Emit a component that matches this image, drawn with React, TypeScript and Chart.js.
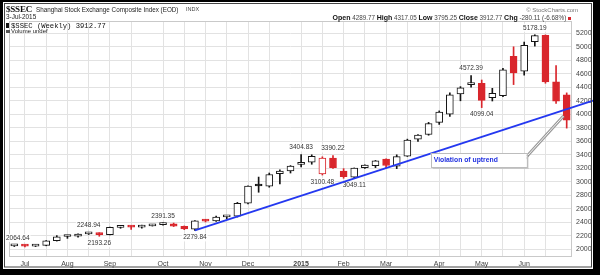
import React, { useEffect, useRef } from 'react';
import { Chart, registerables } from 'chart.js';

Chart.register(...registerables);

// ---- data ----
const weeks = [
  '2014-06-30', '2014-07-07', '2014-07-14', '2014-07-21', '2014-07-28',
  '2014-08-04', '2014-08-11', '2014-08-18', '2014-08-25',
  '2014-09-01', '2014-09-08', '2014-09-15', '2014-09-22', '2014-09-29',
  '2014-10-06', '2014-10-13', '2014-10-20', '2014-10-27',
  '2014-11-03', '2014-11-10', '2014-11-17', '2014-11-24',
  '2014-12-01', '2014-12-08', '2014-12-15', '2014-12-22', '2014-12-29',
  '2015-01-05', '2015-01-12', '2015-01-19', '2015-01-26',
  '2015-02-02', '2015-02-09', '2015-02-16', '2015-02-23',
  '2015-03-02', '2015-03-09', '2015-03-16', '2015-03-23', '2015-03-30',
  '2015-04-06', '2015-04-13', '2015-04-20', '2015-04-27',
  '2015-05-04', '2015-05-11', '2015-05-18', '2015-05-25',
  '2015-06-01', '2015-06-08', '2015-06-15', '2015-06-22', '2015-06-29',
];

const opens = [
  2050, 2060, 2047, 2058, 2127, 2190, 2194, 2228, 2241, 2217, 2326, 2333, 2328, 2348,
  2366, 2377, 2339, 2300, 2428, 2419, 2480, 2490, 2683, 2940, 2935, 3120, 3160,
  3258, 3290, 3116, 3350, 3160, 3070, 3210, 3240, 3335, 3230, 3380, 3630, 3700,
  3880, 4000, 4300, 4440, 4460, 4245, 4276, 4860, 4640, 5076, 5170, 4480, 4289.77,
];
const highs = [
  2064.64, 2066, 2068, 2130, 2203, 2200, 2230, 2248.94, 2245, 2330, 2346, 2346, 2358, 2370,
  2391.35, 2389, 2346, 2426, 2443, 2491, 2496, 2695, 2940, 3070, 3130, 3177, 3240,
  3404.83, 3400, 3370, 3390.22, 3195, 3205, 3250, 3316, 3340, 3400, 3632, 3700, 3880,
  4050, 4317, 4410, 4572.39, 4508, 4385, 4680, 5000, 5070, 5178.19, 5176, 4720, 4317.05,
];
const lows = [
  2041, 2036, 2040, 2052, 2122, 2162, 2181, 2219, 2193.26, 2214, 2311, 2296, 2313, 2344,
  2359, 2337, 2291, 2279.84, 2405, 2414, 2452, 2478, 2673, 2845, 2920, 2968, 3130,
  3220, 3260, 3100.48, 3200, 3052, 3049.11, 3200, 3210, 3210, 3195, 3375, 3600, 3690,
  3850, 3970, 4200, 4400, 4099.04, 4197, 4260, 4440, 4580, 5010, 4460, 4160, 3795.25,
];
const closes = [
  2059.38, 2046.96, 2059.08, 2126.61, 2185.30, 2194.44, 2226.73, 2240.81, 2217.20,
  2326.43, 2331.95, 2329.45, 2347.72, 2363.87, 2374.54, 2341.18, 2302.28, 2420.18,
  2418.17, 2478.82, 2486.79, 2682.84, 2937.65, 2938.17, 3108.60, 3157.60, 3234.68,
  3285.41, 3376.50, 3351.76, 3210.36, 3075.91, 3203.83, 3246.91, 3310.30, 3241.19,
  3372.91, 3617.32, 3691.10, 3863.93, 4034.31, 4287.30, 4393.69, 4441.66, 4205.92,
  4308.69, 4657.60, 4611.74, 5023.10, 5166.35, 4478.36, 4192.87, 3912.77,
];
const prevCloseBefore = 2036.52;

const monthTickIdx = [1, 5, 9, 14, 18, 22, 27, 31, 35, 40, 44, 48];
const monthTickLabels = ['Jul', 'Aug', 'Sep', 'Oct', 'Nov', 'Dec', '2015', 'Feb', 'Mar', 'Apr', 'May', 'Jun'];
const midMonthIdx = [3, 7, 11, 16, 20, 24, 29, 33, 37, 42, 46, 50];
const yTicks = [2000, 2200, 2400, 2600, 2800, 3000, 3200, 3400, 3600, 3800, 4000, 4200, 4400, 4600, 4800, 5000, 5200];
const yMin = 1886;
const yMax = 5382;

// price annotations (index, which side)
const noteIdx = [0, 7, 8, 14, 17, 27, 29, 30, 32, 43, 44, 49];
const noteSide = ['above', 'above', 'below', 'above', 'below', 'above', 'below', 'above', 'below', 'above', 'below', 'above'];

// trend line anchors (two weekly lows)
const trendIdx = [17, 32];
const trendVal = [2279.84, 3049.11];

// callout anchors
const calloutText = 'Violation of uptrend';
const calloutAt = [39.2, 3427]; // index, value (top-left)
const arrowFrom = [48.0, 3335];
const arrowTo = [51.7, 3975];

const RED = '#d9262c';
const BLACK = '#151515';

const overlayPlugin = {
  id: 'overlay',
  beforeDraw(chart: any) {
    const ctx = chart.ctx;
    ctx.save();
    ctx.fillStyle = '#ffffff';
    ctx.fillRect(0, 0, chart.width, chart.height);
    ctx.restore();
  },
  beforeDatasetsDraw(chart: any) {
    const { ctx, chartArea: a } = chart;
    ctx.save();
    ctx.strokeStyle = '#c9c9c9';
    ctx.lineWidth = 1;
    ctx.strokeRect(Math.round(a.left) + 0.5, Math.round(a.top) + 0.5, Math.round(a.right - a.left) - 1, Math.round(a.bottom - a.top) - 1);
    ctx.restore();
  },
  afterDatasetsDraw(chart: any) {
    const { ctx } = chart;
    const xs = chart.scales.x;
    const ys = chart.scales.y;
    ctx.save();

    // price notes
    ctx.font = '6.5px "Liberation Sans", Arial, sans-serif';
    ctx.textAlign = 'center';
    ctx.textBaseline = 'middle';
    noteIdx.forEach((i, k) => {
      const above = noteSide[k] === 'above';
      const v = above ? highs[i] : lows[i];
      const t = v.toFixed(2);
      const w = ctx.measureText(t).width;
      const px = Math.max(xs.getPixelForValue(i), 6 + w / 2);
      const py = ys.getPixelForValue(v) + (above ? -7 : 7);
      ctx.fillStyle = 'rgba(255,255,255,0.9)';
      ctx.fillRect(px - w / 2 - 1, py - 4, w + 2, 8);
      ctx.fillStyle = '#333';
      ctx.fillText(t, px, py);
    });

    // trend line
    const x1 = xs.getPixelForValue(trendIdx[0]);
    const y1 = ys.getPixelForValue(trendVal[0]);
    const x2 = xs.getPixelForValue(trendIdx[1]);
    const y2 = ys.getPixelForValue(trendVal[1]);
    const slope = (y2 - y1) / (x2 - x1);
    const xe = chart.width - 7;
    ctx.strokeStyle = '#2438f0';
    ctx.lineWidth = 1.8;
    ctx.beginPath();
    ctx.moveTo(x1, y1);
    ctx.lineTo(xe, y1 + slope * (xe - x1));
    ctx.stroke();

    // arrow
    const ax1 = xs.getPixelForValue(arrowFrom[0]);
    const ay1 = ys.getPixelForValue(arrowFrom[1]);
    const ax2 = xs.getPixelForValue(arrowTo[0]);
    const ay2 = ys.getPixelForValue(arrowTo[1]);
    ctx.strokeStyle = '#9a9a9a';
    ctx.lineWidth = 3;
    ctx.beginPath();
    ctx.moveTo(ax1, ay1);
    ctx.lineTo(ax2, ay2);
    ctx.stroke();
    ctx.strokeStyle = '#f4f4f4';
    ctx.lineWidth = 1;
    ctx.beginPath();
    ctx.moveTo(ax1, ay1);
    ctx.lineTo(ax2, ay2);
    ctx.stroke();

    // callout box
    const bx = xs.getPixelForValue(calloutAt[0]);
    const by = ys.getPixelForValue(calloutAt[1]);
    const bw = 96;
    const bh = 14;
    ctx.fillStyle = 'rgba(0,0,0,0.12)';
    ctx.fillRect(bx + 2, by + 2, bw, bh);
    ctx.fillStyle = '#ffffff';
    ctx.fillRect(bx, by, bw, bh);
    ctx.strokeStyle = '#bdbdbd';
    ctx.lineWidth = 1;
    ctx.strokeRect(Math.round(bx) + 0.5, Math.round(by) + 0.5, bw, bh);
    ctx.fillStyle = '#1f2fe0';
    ctx.font = 'bold 6.8px "Liberation Sans", Arial, sans-serif';
    ctx.textAlign = 'left';
    ctx.textBaseline = 'middle';
    ctx.fillText(calloutText, bx + 3, by + bh / 2 + 0.5);

    ctx.restore();
  },
  afterDraw(chart: any) {
    const { ctx, width, height } = chart;
    ctx.save();
    ctx.fillStyle = '#000';
    ctx.fillRect(0, 0, width, 2);
    ctx.fillRect(0, 0, 3, height);
    ctx.fillRect(593, 0, width - 593, height);
    ctx.fillRect(0, 269, width, height - 269);
    ctx.strokeStyle = '#444';
    ctx.lineWidth = 1;
    ctx.strokeRect(4.5, 3.5, 587, 263.5);
    ctx.restore();
  },
};

export default function App() {
  const ref = useRef<HTMLCanvasElement | null>(null);

  useEffect(() => {
    document.body.style.margin = '0';
    const canvas = ref.current;
    if (!canvas) return;

    const colors = closes.map((c, i) => {
      const prev = i === 0 ? prevCloseBefore : closes[i - 1];
      return c < prev ? RED : BLACK;
    });
    const fills = closes.map((c, i) => (c > opens[i] ? '#ffffff' : colors[i]));
    const bodies = closes.map((c, i) => [Math.min(c, opens[i]), Math.max(c, opens[i])]);
    const wicks = closes.map((_, i) => [lows[i], highs[i]]);

    const tickFont = { family: '"Liberation Sans", Arial, sans-serif', size: 7 };

    const chart = new Chart(canvas, {
      type: 'bar',
      data: {
        labels: weeks,
        datasets: [
          {
            label: 'body',
            data: bodies as any,
            backgroundColor: fills,
            borderColor: colors,
            borderWidth: 1,
            borderSkipped: false,
            barThickness: 7,
            minBarLength: 2,
            grouped: false,
            order: 0,
          } as any,
          {
            label: 'wick',
            data: wicks as any,
            backgroundColor: colors,
            borderWidth: 0,
            barThickness: 1,
            grouped: false,
            order: 1,
          } as any,
        ],
      },
      options: {
        responsive: false,
        animation: false,
        devicePixelRatio: 1,
        layout: { padding: { left: 9, top: 21, right: 0, bottom: 6 } },
        plugins: { legend: { display: false }, tooltip: { enabled: false } },
        scales: {
          x: {
            type: 'category',
            offset: true,
            grid: {
              offset: false,
              drawTicks: false,
              color: (c: any) =>
                monthTickIdx.includes(c.index) || midMonthIdx.includes(c.index) ? '#e2e2e2' : 'rgba(0,0,0,0)',
            },
            border: { display: false },
            ticks: {
              autoSkip: false,
              maxRotation: 0,
              padding: 3,
              color: '#444',
              font: (c: any) => {
                const k = monthTickIdx.indexOf(c.index);
                const bold = k >= 0 && monthTickLabels[k] === '2015';
                return { ...tickFont, weight: bold ? 'bold' : 'normal' };
              },
              callback: (_v: any, i: number) => {
                const k = monthTickIdx.indexOf(i);
                return k >= 0 ? monthTickLabels[k] : '';
              },
            },
            afterFit: (s: any) => {
              s.height = 12;
            },
          } as any,
          y: {
            type: 'linear',
            position: 'right',
            min: yMin,
            max: yMax,
            afterBuildTicks: (s: any) => {
              s.ticks = yTicks.map((v) => ({ value: v }));
            },
            grid: { drawTicks: false, color: '#e2e2e2' },
            border: { display: false },
            ticks: {
              padding: 4,
              color: '#444',
              font: tickFont,
              callback: (v: any) => String(v),
            },
            afterFit: (s: any) => {
              s.width = 28;
            },
          } as any,
        },
      },
      plugins: [overlayPlugin],
    });

    return () => chart.destroy();
  }, []);

  const abs: React.CSSProperties = { position: 'absolute', whiteSpace: 'nowrap', lineHeight: 1 };
  const sans = '"Liberation Sans", Arial, sans-serif';

  return (
    <div style={{ position: 'fixed', left: 0, top: 0, width: 600, height: 275, background: '#fff', overflow: 'hidden' }}>
      <canvas ref={ref} width={600} height={275} style={{ position: 'absolute', left: 0, top: 0, width: 600, height: 275 }} />
      <div style={{ ...abs, left: 6, top: 4.5, fontFamily: '"Liberation Serif", serif', fontWeight: 'bold', fontSize: 9, letterSpacing: -0.2, color: '#111' }}>
        $SSEC
      </div>
      <div style={{ ...abs, left: 36, top: 6.5, fontFamily: sans, fontSize: 6.3, color: '#222' }}>
        Shanghai Stock Exchange Composite Index (EOD)
      </div>
      <div style={{ ...abs, left: 186, top: 7, fontFamily: sans, fontSize: 5.5, color: '#444' }}>INDX</div>
      <div style={{ ...abs, left: 6, top: 13.5, fontFamily: sans, fontSize: 6.4, color: '#222' }}>3-Jul-2015</div>
      <div style={{ ...abs, left: 6, top: 22.5, fontFamily: '"Liberation Mono", monospace', fontSize: 7.2, color: '#111' }}>
        <span style={{ display: 'inline-block', width: 3, height: 5, background: '#111', marginRight: 2, verticalAlign: 'middle' }} />
        $SSEC (Weekly) 3912.77
      </div>
      <div style={{ ...abs, left: 6, top: 28, fontFamily: sans, fontSize: 6, color: '#222' }}>
        <span style={{ display: 'inline-block', width: 4, height: 3, background: '#555', marginRight: 1, verticalAlign: 'middle' }} />
        Volume undef
      </div>
      <div style={{ ...abs, right: 22, top: 6.5, fontFamily: sans, fontSize: 6, color: '#777' }}>© StockCharts.com</div>
      <div style={{ ...abs, right: 29, top: 13.8, fontFamily: sans, fontSize: 6.3, color: '#444' }}>
        <b style={{ color: '#111', fontSize: 7 }}>Open</b> 4289.77 <b style={{ color: '#111', fontSize: 7 }}>High</b> 4317.05{' '}
        <b style={{ color: '#111', fontSize: 7 }}>Low</b> 3795.25 <b style={{ color: '#111', fontSize: 7 }}>Close</b> 3912.77{' '}
        <b style={{ color: '#111', fontSize: 7 }}>Chg</b> -280.11 (-6.68%){' '}
        <span style={{ display: 'inline-block', width: 3, height: 3, background: RED, verticalAlign: 'middle' }} />
      </div>
    </div>
  );
}
